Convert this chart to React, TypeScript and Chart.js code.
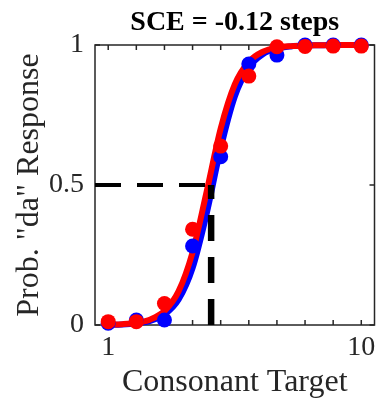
import React, { useEffect, useRef } from 'react';
import { Chart, registerables } from 'chart.js';

Chart.register(...registerables);

// ---- data ----
const stimSteps = [1, 2, 3, 4, 5, 6, 7, 8, 9, 10];
const blueResponses = [0.006, 0.018, 0.018, 0.282, 0.601, 0.932, 0.964, 1.0, 1.0, 1.0];
const redResponses = [0.012, 0.012, 0.077, 0.342, 0.639, 0.889, 0.994, 0.995, 0.996, 0.996];

const fitSteps = [1, 1.5, 2, 2.5, 3, 3.5, 4, 4.5, 5, 5.5, 6, 6.5, 7, 7.5, 8, 8.5, 9, 9.5, 10];
const blueFit = [0.001, 0.002, 0.006, 0.015, 0.037, 0.09, 0.203, 0.397, 0.63, 0.815, 0.919, 0.967, 0.987, 0.995, 0.998, 0.999, 1.0, 1.0, 1.0];
const redFit = [0.001, 0.003, 0.008, 0.02, 0.05, 0.12, 0.26, 0.476, 0.702, 0.859, 0.94, 0.976, 0.991, 0.996, 0.998, 0.999, 1.0, 1.0, 1.0];

const thresholdStep = 4.66;
const criterion = 0.5;

const xMin = 0.53;
const xMax = 10.47;
const xTickMarks = [1, 2, 3, 4, 5, 6, 7, 8, 9, 10];
const xTickLabels = [1, 10];
const yTickValues = [0, 0.5, 1];

const titleText = 'SCE = -0.12 steps';
const xTitle = 'Consonant Target';
const yTitle = 'Prob. "da" Response';

const SERIF = '"Liberation Serif", "Times New Roman", serif';
const AXIS_COLOR = '#262626';

const boxPlugin = {
  id: 'matlabBox',
  beforeDatasetsDraw(chart: any) {
    const { ctx, chartArea } = chart;
    const { left, right, top, bottom } = chartArea;
    const xs = chart.scales.x;
    const ys = chart.scales.y;
    ctx.save();
    ctx.strokeStyle = AXIS_COLOR;
    ctx.lineWidth = 1.5;
    ctx.strokeRect(left, top, right - left, bottom - top);
    const tl = 5;
    ctx.beginPath();
    xTickMarks.forEach((v) => {
      const px = xs.getPixelForValue(v);
      ctx.moveTo(px, bottom);
      ctx.lineTo(px, bottom - tl);
      ctx.moveTo(px, top);
      ctx.lineTo(px, top + tl);
    });
    yTickValues.forEach((v) => {
      const py = ys.getPixelForValue(v);
      ctx.moveTo(left, py);
      ctx.lineTo(left + tl, py);
      ctx.moveTo(right, py);
      ctx.lineTo(right - tl, py);
    });
    ctx.stroke();
    ctx.restore();
  },
  afterDraw(chart: any) {
    const { ctx, chartArea } = chart;
    ctx.save();
    ctx.fillStyle = '#000';
    ctx.font = `bold 28px ${SERIF}`;
    ctx.textAlign = 'center';
    ctx.textBaseline = 'middle';
    ctx.fillText(titleText, (chartArea.left + chartArea.right) / 2, 23);
    ctx.restore();
  },
};

export default function App() {
  const canvasRef = useRef<HTMLCanvasElement | null>(null);

  useEffect(() => {
    if (!canvasRef.current) return;
    const chart = new Chart(canvasRef.current, {
      type: 'scatter',
      data: {
        datasets: [
          {
            label: 'criterion',
            data: [
              { x: xMin, y: criterion },
              { x: thresholdStep, y: criterion },
            ],
            showLine: true,
            borderColor: '#000',
            borderWidth: 4,
            borderDash: [26, 16],
            pointRadius: 0,
            order: 0,
          },
          {
            label: 'threshold',
            data: [
              { x: thresholdStep, y: 0 },
              { x: thresholdStep, y: criterion },
            ],
            showLine: true,
            borderColor: '#000',
            borderWidth: 6.5,
            borderDash: [26, 16],
            pointRadius: 0,
            order: 0,
          },
          {
            label: 'red points',
            data: stimSteps.map((x, i) => ({ x, y: redResponses[i] })),
            showLine: false,
            pointRadius: 7.5,
            pointBackgroundColor: '#FF0000',
            pointBorderWidth: 0,
            borderColor: '#FF0000',
            clip: false,
            order: 1,
          },
          {
            label: 'blue points',
            data: stimSteps.map((x, i) => ({ x, y: blueResponses[i] })),
            showLine: false,
            pointRadius: 7.5,
            pointBackgroundColor: '#0000FF',
            pointBorderWidth: 0,
            borderColor: '#0000FF',
            clip: false,
            order: 2,
          },
          {
            label: 'red fit',
            data: fitSteps.map((x, i) => ({ x, y: redFit[i] })),
            showLine: true,
            borderColor: '#FF0000',
            borderWidth: 6,
            pointRadius: 0,
            cubicInterpolationMode: 'monotone',
            clip: false,
            order: 3,
          },
          {
            label: 'blue fit',
            data: fitSteps.map((x, i) => ({ x, y: blueFit[i] })),
            showLine: true,
            borderColor: '#0000FF',
            borderWidth: 6,
            pointRadius: 0,
            cubicInterpolationMode: 'monotone',
            clip: false,
            order: 4,
          },
        ],
      },
      options: {
        animation: false,
        responsive: false,
        devicePixelRatio: 1,
        layout: { padding: { top: 45, right: 6, left: 0, bottom: 0 } },
        plugins: {
          legend: { display: false },
          tooltip: { enabled: false },
          title: { display: false },
        },
        scales: {
          x: {
            type: 'linear',
            min: xMin,
            max: xMax,
            afterBuildTicks: (s: any) => {
              s.ticks = xTickLabels.map((v) => ({ value: v }));
            },
            afterFit: (s: any) => {
              s.height = 77;
            },
            ticks: {
              autoSkip: false,
              maxRotation: 0,
              padding: 6,
              color: AXIS_COLOR,
              font: { family: SERIF, size: 28 },
              callback: (v: any) => String(v),
            },
            grid: { display: false, drawTicks: false },
            border: { display: false },
            title: {
              display: true,
              text: xTitle,
              color: AXIS_COLOR,
              font: { family: SERIF, size: 32 },
              padding: { top: 0, bottom: 0 },
            },
          },
          y: {
            type: 'linear',
            min: 0,
            max: 1,
            afterBuildTicks: (s: any) => {
              s.ticks = yTickValues.map((v) => ({ value: v }));
            },
            afterFit: (s: any) => {
              s.width = 95;
            },
            ticks: {
              autoSkip: false,
              padding: 11,
              color: AXIS_COLOR,
              font: { family: SERIF, size: 28 },
              callback: (v: any) => String(v),
            },
            grid: { display: false, drawTicks: false },
            border: { display: false },
            title: {
              display: true,
              text: yTitle,
              color: AXIS_COLOR,
              font: { family: SERIF, size: 32 },
              padding: { top: 10, bottom: 0 },
            },
          },
        },
      },
      plugins: [boxPlugin],
    } as any);
    return () => chart.destroy();
  }, []);

  return (
    <div style={{ position: 'absolute', left: 0, top: 0, width: 382, height: 402, background: '#fff' }}>
      <canvas ref={canvasRef} width={382} height={402} style={{ display: 'block' }} />
    </div>
  );
}
